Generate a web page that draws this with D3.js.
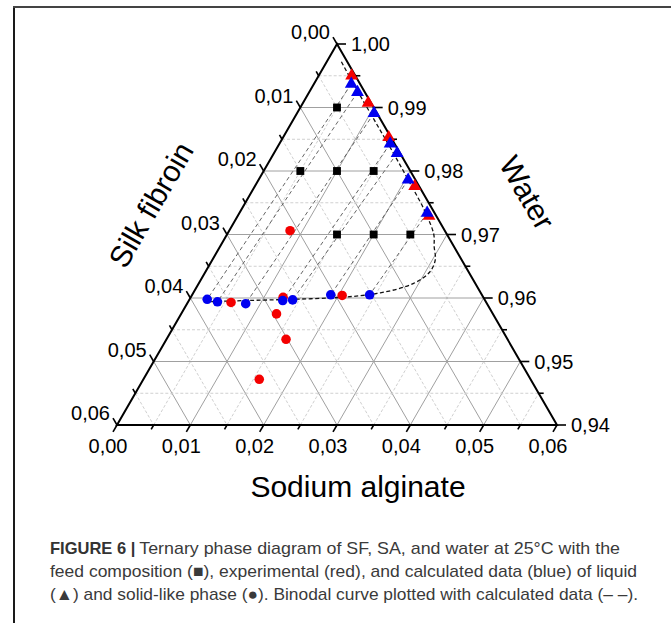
<!DOCTYPE html>
<html>
<head>
<meta charset="utf-8">
<script src="https://cdn.jsdelivr.net/npm/d3@7"></script>
<style>
  body { margin: 0; background: #fff; }
  svg { display: block; }
</style>
</head>
<body>
<svg id="chart"></svg>
<script>
// tick values along the three axes
const saTicks = [0, 0.01, 0.02, 0.03, 0.04, 0.05, 0.06];
const sfTicks = [0, 0.01, 0.02, 0.03, 0.04, 0.05, 0.06];
const waterTicks = [1.00, 0.99, 0.98, 0.97, 0.96, 0.95, 0.94];
const saLabels = ['0,00', '0,01', '0,02', '0,03', '0,04', '0,05', '0,06'];
const sfLabels = ['0,00', '0,01', '0,02', '0,03', '0,04', '0,05', '0,06'];
const waterLabels = ['1,00', '0,99', '0,98', '0,97', '0,96', '0,95', '0,94'];

// feed composition (squares)
const feedSA = [0.005, 0.005, 0.010, 0.015, 0.015, 0.020, 0.025];
const feedWater = [0.990, 0.980, 0.980, 0.980, 0.970, 0.970, 0.970];

// liquid phase (triangles)
const expLiquidSA = [0.0045, 0.0089, 0.0144, 0.0218, 0.0261];
const expLiquidWater = [0.9950, 0.9907, 0.9853, 0.9776, 0.9729];
const calcLiquidSA = [0.0051, 0.0066, 0.0105, 0.0151, 0.0168, 0.0204, 0.0256];
const calcLiquidWater = [0.9937, 0.9924, 0.9891, 0.9843, 0.9828, 0.9786, 0.9734];

// solid-like phase (circles)
const expSolidSA = [0.0083, 0.0059, 0.0126, 0.0130, 0.0163, 0.0158, 0.0205];
const expSolidWater = [0.9706, 0.9593, 0.9601, 0.9575, 0.9535, 0.9472, 0.9604];
const calcSolidSA = [0.0024, 0.0040, 0.0080, 0.0128, 0.0141, 0.0189, 0.0242];
const calcSolidWater = [0.9598, 0.9594, 0.9591, 0.9596, 0.9597, 0.9605, 0.9605];

// binodal curve (calculated)
const binodalSA = [0.0020, 0.0061, 0.0111, 0.0161, 0.0210, 0.0253, 0.0282, 0.0292, 0.0304, 0.0306,
                   0.0293, 0.0255, 0.0204, 0.0141, 0.0079, 0.0023];
const binodalWater = [0.9972, 0.9930, 0.9880, 0.9830, 0.9780, 0.9735, 0.9700, 0.9681, 0.9660, 0.9641,
                      0.9623, 0.9608, 0.9601, 0.9598, 0.9596, 0.9594];

const captionLines = [
  'Ternary phase diagram of SF, SA, and water at 25°C with the',
  'feed composition (\u25A0), experimental (red), and calculated data (blue) of liquid',
  '(\u25B2) and solid-like phase (\u25CF). Binodal curve plotted with calculated data (\u2013 \u2013).'
];

const zip = (a, w) => a.map((d, i) => ({ sa: d, water: w[i] }));

class TernaryChart {
  constructor(config_) {
    this.config = {
      svgElement: config_.svgElement,
      width: config_.width,
      height: config_.height,
      apex: config_.apex,
      left: config_.left,
      right: config_.right
    };
    this.initVis();
  }

  initVis() {
    const vis = this;
    const c = vis.config;

    vis.svg = d3.select(c.svgElement)
      .attr('width', c.width)
      .attr('height', c.height);

    // water sets the row, sodium alginate the offset along the row
    vis.yScale = d3.scaleLinear().domain([0.94, 1]).range([c.left[1], c.apex[1]]);
    vis.rowStart = d3.scaleLinear().domain([0.94, 1]).range([c.left[0], c.apex[0]]);
    vis.saScale = d3.scaleLinear().domain([0, 0.06]).range([0, c.right[0] - c.left[0]]);

    vis.pos = (sa, water) => [vis.rowStart(water) + vis.saScale(sa), vis.yScale(water)];

    vis.chart = vis.svg.append('g');
    vis.renderVis();
  }

  renderVis() {
    const vis = this;
    const line = d3.line();

    // grid: constant SA, SF and water lines
    const steps = d3.range(1, 12).map(i => i * 0.005);
    const gridG = vis.chart.append('g').attr('class', 'grid');
    const gridSegs = [];
    steps.forEach(v => {
      const major = Math.round(v * 1000) % 10 === 0;
      gridSegs.push({ major, pts: [vis.pos(v, 0.94), vis.pos(v, 1 - v)] });          // SA = v
      gridSegs.push({ major, pts: [vis.pos(0, 1 - v), vis.pos(0.06 - v, 0.94)] });    // SF = v
      gridSegs.push({ major, pts: [vis.pos(0, 1 - v), vis.pos(v, 1 - v)] });          // water = 1 - v
    });
    gridG.selectAll('path')
      .data(gridSegs)
      .join('path')
      .attr('d', d => line(d.pts))
      .attr('fill', 'none')
      .attr('stroke', d => d.major ? '#a0a0a0' : '#d0d0d0')
      .attr('stroke-width', 1)
      .attr('stroke-dasharray', d => d.major ? null : '3,2');

    // tie lines between calculated liquid and solid-like phases
    const liquid = zip(calcLiquidSA, calcLiquidWater);
    const solid = zip(calcSolidSA, calcSolidWater);
    vis.chart.append('g').selectAll('path')
      .data(liquid.map((d, i) => [d, solid[i]]))
      .join('path')
      .attr('d', d => line(d.map(p => vis.pos(p.sa, p.water))))
      .attr('fill', 'none')
      .attr('stroke', '#555')
      .attr('stroke-width', 0.9)
      .attr('stroke-dasharray', '4,3');

    // binodal curve
    vis.chart.append('path')
      .datum(zip(binodalSA, binodalWater))
      .attr('d', d3.line().curve(d3.curveCatmullRom.alpha(0.5))
        .x(d => vis.pos(d.sa, d.water)[0])
        .y(d => vis.pos(d.sa, d.water)[1]))
      .attr('fill', 'none')
      .attr('stroke', '#111')
      .attr('stroke-width', 1.3)
      .attr('stroke-dasharray', '4,2.5');

    // triangle frame
    const c = vis.config;
    vis.chart.append('path')
      .attr('d', line([c.apex, c.left, c.right]) + 'Z')
      .attr('fill', 'none')
      .attr('stroke', '#000')
      .attr('stroke-width', 2)
      .attr('stroke-linejoin', 'miter');

    vis.renderAxes();
    vis.renderPoints();
  }

  renderAxes() {
    const vis = this;
    const axG = vis.chart.append('g').attr('class', 'axes');
    const font = "'Liberation Sans', Arial, sans-serif";
    const s3 = Math.sqrt(3) / 2;
    const minor = d3.range(0, 6).map(i => 0.005 + i * 0.01);

    const tick = (p, dx, dy, len) => axG.append('line')
      .attr('x1', p[0]).attr('y1', p[1])
      .attr('x2', p[0] + dx * len).attr('y2', p[1] + dy * len)
      .attr('stroke', '#000').attr('stroke-width', 1.6);

    // bottom: sodium alginate, ticks down-left
    saTicks.forEach((v, i) => {
      const p = vis.pos(v, 0.94);
      tick(p, -0.5, s3, 8);
      axG.append('text')
        .attr('x', p[0] - 9).attr('y', p[1] + 28)
        .attr('text-anchor', 'middle')
        .attr('font-family', font).attr('font-size', 20)
        .text(saLabels[i]);
    });
    minor.forEach(v => tick(vis.pos(v, 0.94), -0.5, s3, 5));

    // left: silk fibroin, ticks up-left
    sfTicks.forEach((v, i) => {
      const p = vis.pos(0, 1 - v);
      tick(p, -0.5, -s3, 8);
      axG.append('text')
        .attr('x', p[0] - 7).attr('y', p[1] - 5)
        .attr('text-anchor', 'end')
        .attr('font-family', font).attr('font-size', 20)
        .text(sfLabels[i]);
    });
    minor.forEach(v => tick(vis.pos(0, 1 - v), -0.5, -s3, 5));

    // right: water, ticks to the right
    waterTicks.forEach((v, i) => {
      const p = vis.pos(1 - v, v);
      tick(p, 1, 0, 9);
      axG.append('text')
        .attr('x', p[0] + 14).attr('y', p[1])
        .attr('dy', '0.36em')
        .attr('font-family', font).attr('font-size', 20)
        .text(waterLabels[i]);
    });
    minor.forEach(v => tick(vis.pos(v, 1 - v), 1, 0, 5));

    // axis titles
    axG.append('text')
      .attr('x', 358).attr('y', 497)
      .attr('text-anchor', 'middle')
      .attr('font-family', font).attr('font-size', 30)
      .text('Sodium alginate');
    axG.append('text')
      .attr('transform', 'translate(160,210) rotate(-60)')
      .attr('text-anchor', 'middle')
      .attr('font-family', font).attr('font-size', 30)
      .text('Silk fibroin');
    axG.append('text')
      .attr('transform', 'translate(518,198) rotate(60)')
      .attr('text-anchor', 'middle')
      .attr('font-family', font).attr('font-size', 30)
      .text('Water');
  }

  renderPoints() {
    const vis = this;
    const sym = (type, size) => d3.symbol().type(type).size(size)();
    const groups = [
      { data: zip(feedSA, feedWater), type: d3.symbolSquare, size: 62, color: '#000' },
      { data: zip(expSolidSA, expSolidWater), type: d3.symbolCircle, size: 72, color: '#f40000' },
      { data: zip(calcSolidSA, calcSolidWater), type: d3.symbolCircle, size: 72, color: '#0000f0' },
      { data: zip(expLiquidSA, expLiquidWater), type: d3.symbolTriangle, size: 72, color: '#f40000' },
      { data: zip(calcLiquidSA, calcLiquidWater), type: d3.symbolTriangle, size: 72, color: '#0000f0' }
    ];
    groups.forEach(g => {
      vis.chart.append('g').selectAll('path')
        .data(g.data)
        .join('path')
        .attr('transform', d => `translate(${vis.pos(d.sa, d.water)})`)
        .attr('d', sym(g.type, g.size))
        .attr('fill', g.color);
    });
  }
}

const svg = d3.select('#chart');
svg.attr('width', 671).attr('height', 623);

// figure frame (left and top edges only)
svg.append('line').attr('x1', 14).attr('y1', 6).attr('x2', 14).attr('y2', 623)
  .attr('stroke', '#1a1a1a').attr('stroke-width', 2);
svg.append('line').attr('x1', 13).attr('y1', 7).attr('x2', 671).attr('y2', 7)
  .attr('stroke', '#444').attr('stroke-width', 2);

new TernaryChart({
  svgElement: '#chart',
  width: 671,
  height: 623,
  apex: [337, 44],
  left: [117, 425],
  right: [557, 425]
});

// caption
const capFont = "'Liberation Sans Narrow', 'Liberation Sans', Arial, sans-serif";
const capBase = [554, 577, 600];
const capEnd = [620, 637, 638];
const bold = svg.append('text')
  .attr('x', 50).attr('y', capBase[0])
  .attr('font-family', "'Liberation Sans', Arial, sans-serif")
  .attr('font-size', 16.5).attr('font-weight', 'bold')
  .attr('fill', '#333')
  .text('FIGURE 6 |');
const boldEnd = 50 + bold.node().getComputedTextLength() + 4;
captionLines.forEach((t, i) => {
  const x0 = i === 0 ? boldEnd : 50;
  svg.append('text')
    .attr('x', x0).attr('y', capBase[i])
    .attr('font-family', capFont)
    .attr('font-size', 17)
    .attr('fill', '#3a3a3a')
    .attr('textLength', capEnd[i] - x0)
    .attr('lengthAdjust', 'spacingAndGlyphs')
    .text(t);
});
</script>
</body>
</html>
